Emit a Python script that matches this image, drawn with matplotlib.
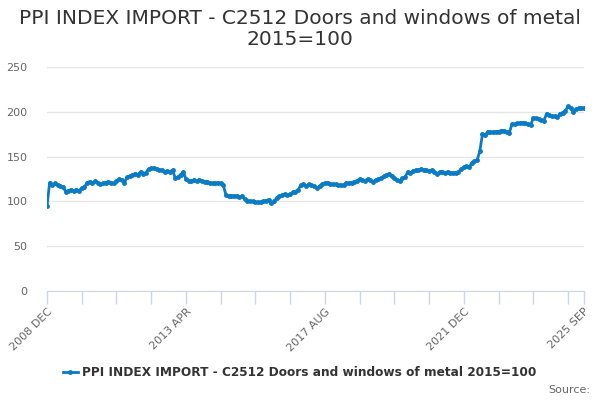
import matplotlib
matplotlib.use("Agg")
import matplotlib.pyplot as plt

series_name = "PPI INDEX IMPORT - C2512 Doors and windows of metal 2015=100"
title = "PPI INDEX IMPORT - C2512 Doors and windows of metal\n2015=100"
tick_labels = ["2008 DEC", "2013 APR", "2017 AUG", "2021 DEC", "2025 SEP"]
tick_label_pos = [0, 52, 104, 156, 201]
minor_tick_pos = [0, 13, 26, 39, 52, 65, 78, 91, 104, 117, 130, 143, 156, 169, 182, 195, 201]
yticks = [0, 50, 100, 150, 200, 250]

values = [
    95, 121, 118, 120, 118, 117, 116, 111, 112, 113,
    112, 113, 112, 115, 116, 121, 122, 120, 123, 121,
    119, 120, 121, 122, 121, 120, 123, 125, 124, 121,
    127, 128, 129, 131, 130, 133, 131, 132, 136, 137,
    137, 136, 135, 135, 133, 134, 133, 135, 126, 127,
    130, 133, 125, 123, 123, 124, 123, 124, 123, 122,
    122, 121, 120, 120, 121, 120, 118, 107, 106, 106,
    106, 106, 105, 106, 103, 101, 100, 100, 99, 99,
    99, 100, 101, 102, 98, 100, 104, 106, 107, 108,
    107, 108, 110, 111, 113, 118, 119, 117, 119, 118,
    117, 115, 117, 119, 120, 121, 119, 119, 119, 118,
    118, 118, 121, 120, 121, 122, 123, 125, 124, 123,
    125, 124, 122, 124, 125, 126, 128, 129, 131, 128,
    126, 124, 123, 126, 127, 133, 132, 134, 135, 135,
    136, 135, 135, 134, 135, 133, 131, 133, 133, 132,
    133, 132, 132, 132, 133, 136, 138, 139, 138, 143,
    145, 146, 156, 175, 174, 178, 177, 177, 178, 178,
    179, 179, 178, 176, 186, 186, 187, 187, 188, 187,
    186, 185, 193, 193, 192, 191, 190, 198, 196, 195,
    195, 194, 198, 199, 201, 206, 204, 200, 203, 204,
    204, 204,
]

x = list(range(len(values)))
line_color = "#0a7bc4"
axis_color = "#ccd6eb"

fig = plt.figure(figsize=(6, 4), dpi=100)
ax = fig.add_axes([47/600, 1 - 291/400, (584-47)/600, (291-67)/400])

ax.plot(x, values, color=line_color, linewidth=2, marker="o", markersize=2.5,
        label=series_name, zorder=3)

ax.set_xlim(0, 201)
ax.set_ylim(0, 250)
ax.set_yticks(yticks)
ax.set_yticklabels([str(v) for v in yticks], color="#666666", fontsize=8)
ax.yaxis.grid(True, color="#e6e6e6", linewidth=1)
ax.set_axisbelow(True)
ax.tick_params(axis="y", length=0, pad=14)

ax.set_xticks(minor_tick_pos, minor=True)
ax.set_xticks(tick_label_pos)
ax.set_xticklabels(tick_labels, rotation=45, ha="right", rotation_mode="anchor",
                   color="#666666", fontsize=8)
ax.tick_params(axis="x", which="both", length=9, color=axis_color, width=1, pad=2)

for s in ["top", "right", "left"]:
    ax.spines[s].set_visible(False)
ax.spines["bottom"].set_color(axis_color)

fig.text(0.5, 1 - 29/400, title, ha="center", va="center", fontsize=14.5,
         color="#333333", linespacing=1.15)

leg = fig.legend(loc="center", bbox_to_anchor=(0.5, 1 - 373/400), frameon=False,
                 handlelength=1.2, handletextpad=0.4, prop={"weight": "bold", "size": 8.7})
for t in leg.get_texts():
    t.set_color("#333333")

fig.text(590/600, 1 - 390/400, "Source:", ha="right", va="center", fontsize=8, color="#666666")

fig.savefig("out.png", dpi=100)
